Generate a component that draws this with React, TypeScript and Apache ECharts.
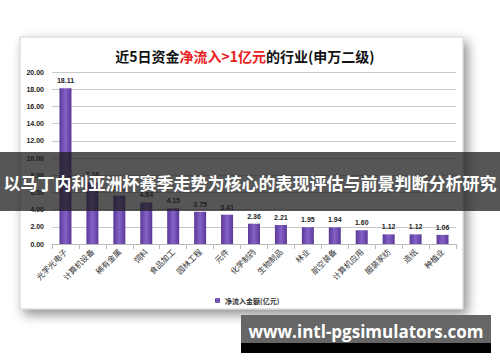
import React, { useEffect, useRef } from "react";
import * as echarts from "echarts";

const categories = ["光学光电子", "计算机设备", "稀有金属", "饲料", "食品加工", "园林工程", "元件", "化学制药", "生物制品", "林业", "航空装备", "计算机应用", "服装家纺", "造纸", "种植业"];
const values = [18.11, 7.16, 5.63, 4.84, 4.15, 3.75, 3.41, 2.36, 2.21, 1.95, 1.94, 1.6, 1.12, 1.12, 1.06];
const seriesName = "净流入金额(亿元)";
const overlayText = "以马丁内利亚洲杯赛季走势为核心的表现评估与前景判断分析研究";
const siteText = "www.intl-pgsimulators.com";

export default function App() {
  const ref = useRef<HTMLDivElement>(null);
  useEffect(() => {
    const chart = echarts.init(ref.current!, null, { renderer: "svg" });
    chart.setOption({
      animation: false,
      backgroundColor: "#ffffff",
      title: {
        text: "{a|近5日资金}{b|净流入>1亿元}{a|的行业(申万二级)}",
        left: 240,
        textAlign: "center",
        top: 44,
        textStyle: {
          rich: {
            a: { fontSize: 14, fontWeight: "bold", color: "#111", fontFamily: "Noto Sans CJK SC" },
            b: { fontSize: 14, fontWeight: "bold", color: "#e8231f", fontFamily: "Noto Sans CJK SC" },
          },
        },
      },
      grid: { left: 52, right: 44, top: 72, bottom: 118 },
      legend: {
        data: [seriesName],
        left: 210,
        top: 292,
        itemWidth: 5,
        itemHeight: 5,
        itemGap: 3,
        textStyle: { fontSize: 7, color: "#333", fontWeight: "bold", fontFamily: "Noto Sans CJK SC" },
      },
      xAxis: {
        type: "category",
        data: categories,
        axisLine: { lineStyle: { color: "#bbb" } },
        axisTick: { show: true, lineStyle: { color: "#bbb" } },
        axisLabel: { rotate: 45, fontSize: 8, color: "#333", interval: 0, margin: 6, fontFamily: "Noto Sans CJK SC" },
      },
      yAxis: {
        type: "value",
        min: 0,
        max: 20,
        interval: 2,
        axisLine: { show: false },
        axisTick: { show: false },
        splitLine: { lineStyle: { color: "#c8c8c8" } },
        axisLabel: { formatter: (v: number) => v.toFixed(2), fontSize: 7, fontWeight: "bold", color: "#222", margin: 8 },
      },
      series: [
        {
          name: seriesName,
          type: "bar",
          data: values,
          barWidth: 12,
          itemStyle: {
            color: new echarts.graphic.LinearGradient(0, 0, 1, 0, [
              { offset: 0, color: "#5a3896" },
              { offset: 0.5, color: "#8562c8" },
              { offset: 1, color: "#5a3896" },
            ]),
          },
          label: {
            show: true,
            position: "top",
            formatter: (p: any) => p.value.toFixed(2),
            fontSize: 7,
            fontWeight: "bold",
            color: "#222",
            distance: 4,
          },
          z: 5,
        },
      ],
      graphic: [
        {
          type: "rect",
          z: -10,
          shape: { x: 20, y: 37, width: 443, height: 272 },
          style: { fill: "#fff", stroke: "#d0d0d0", lineWidth: 1, shadowBlur: 12, shadowColor: "rgba(0,0,0,0.45)", shadowOffsetX: 4, shadowOffsetY: 5 },
        },
        {
          type: "rect",
          z: 100,
          shape: { x: 0, y: 152, width: 500, height: 59 },
          style: { fill: "rgba(30,30,30,0.75)" },
        },
        {
          type: "text",
          z: 101,
          x: 250,
          y: 182,
          style: { text: overlayText, fill: "#fff", fontSize: 17, fontWeight: "bold", fontFamily: "Noto Sans CJK SC", align: "center", verticalAlign: "middle" },
        },
        {
          type: "rect",
          z: 100,
          shape: { x: 241, y: 315, width: 250, height: 28 },
          style: { fill: "#666" },
        },
        {
          type: "rect",
          z: 100,
          shape: { x: 241, y: 343, width: 250, height: 10 },
          style: { fill: "#000" },
        },
        {
          type: "text",
          z: 101,
          x: 366,
          y: 331,
          style: { text: siteText, fill: "#fff", fontSize: 17, fontWeight: "bold", fontFamily: "Open Sans", align: "center", verticalAlign: "middle" },
        },
      ],
    });
    return () => chart.dispose();
  }, []);
  return <div ref={ref} style={{ position: "fixed", left: 0, top: 0, width: 500, height: 362 }} />;
}
